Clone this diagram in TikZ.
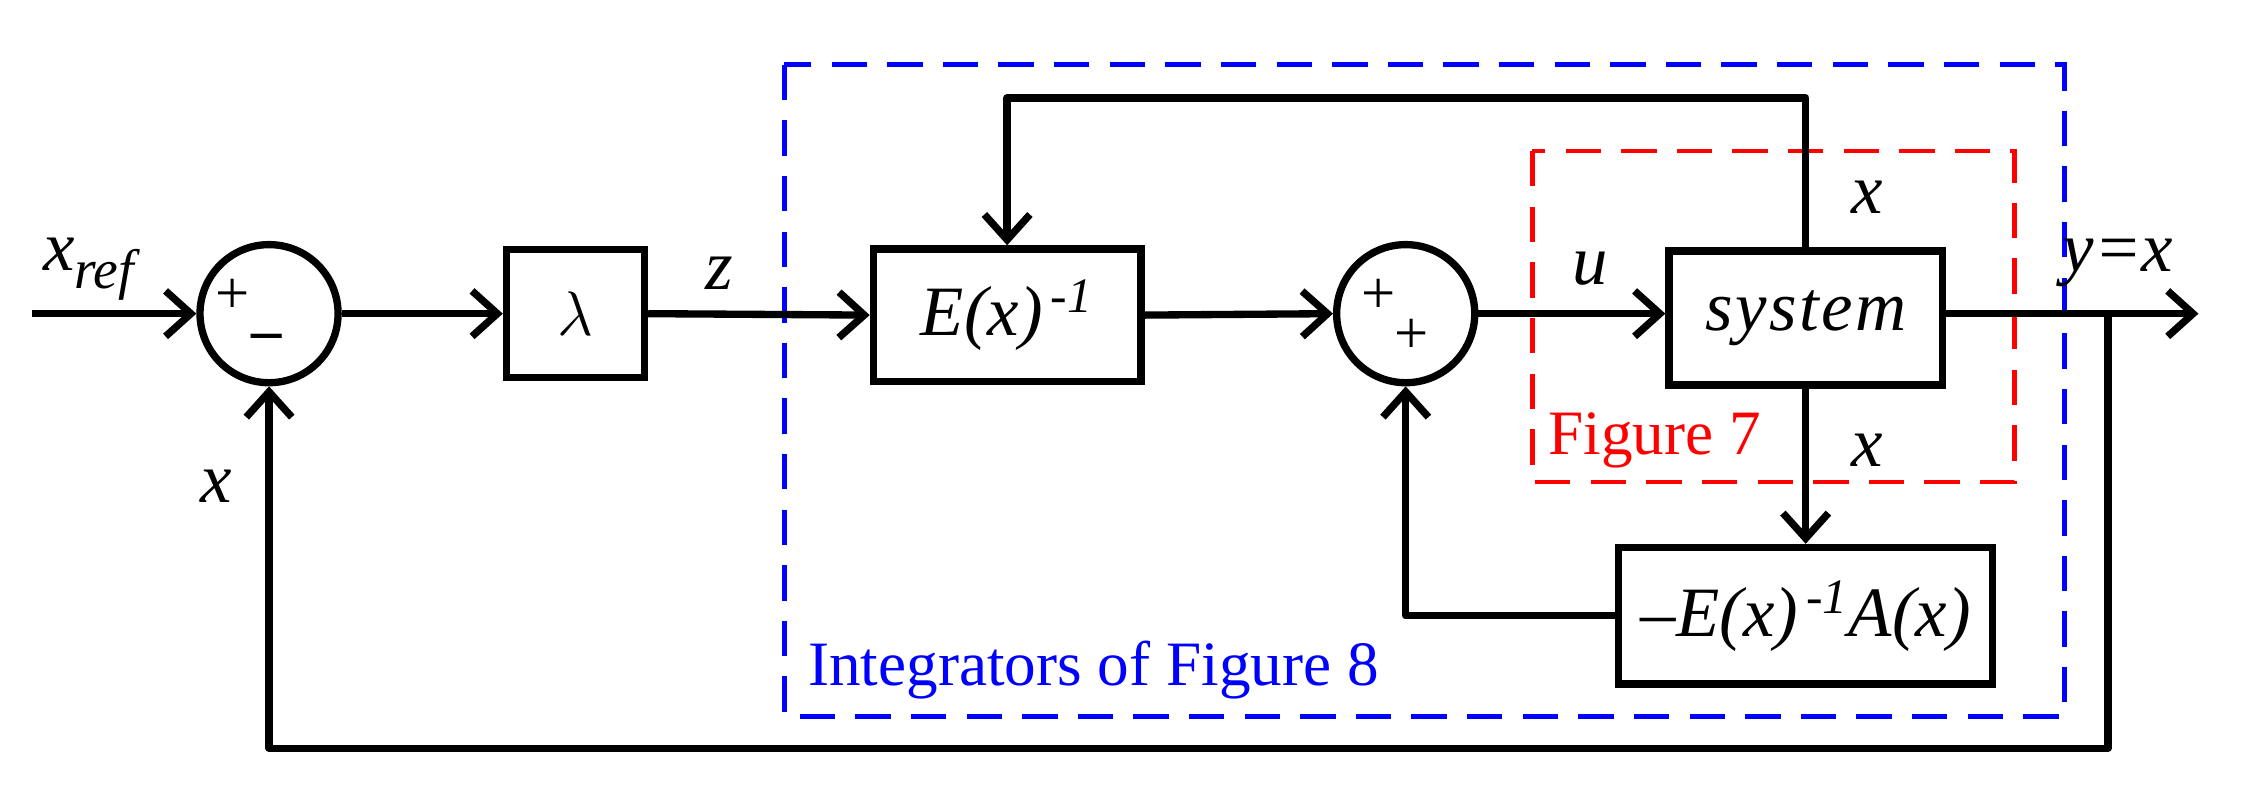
\documentclass[tikz,border=0pt]{standalone}
\usepackage{fontspec}
\setmainfont{Liberation Serif}
\usetikzlibrary{arrows.meta}
\begin{document}
\begin{tikzpicture}[x=0.02cm,y=-0.02cm,
  ln/.style={line width=2.9pt,line join=round},
  ar/.style={ln,-{Straight Barb[length=10pt,width=18pt,line width=2.9pt]}},
  box/.style={draw,line width=2.9pt,minimum width=0pt,inner sep=0pt},
  sum/.style={draw,circle,line width=2.9pt,minimum size=1.92cm,inner sep=0pt},
  lab/.style={font=\fontsize{28}{33}\selectfont\itshape,inner sep=0pt},
  sg/.style={font=\fontsize{24}{28}\selectfont,inner sep=0pt}]
\useasboundingbox (0,0) rectangle (1568,551);
% dashed frames
\draw[blue,line width=1.9pt,dash pattern=on 14pt off 8pt] (545,45) rectangle (1435,498);
\draw[red,line width=1.9pt,dash pattern=on 14pt off 8pt] (1065,105) rectangle (1400,335);
\node[blue,font=\fontsize{25}{30}\selectfont,inner sep=0pt] (lb) at (760,466) {Integrators of Figure 8};
\node[red,font=\fontsize{25}{30}\selectfont,inner sep=0pt] (lr) at (1150,306) {Figure 7};
% nodes
\coordinate (in) at (22,218);
\node[sum] (s1) at (187,218) {};
\node[sg] (p1) at (162,206) {+};
\node[sg] (m1) at (185,238) {\bfseries --};
\node[box,minimum width=1.92cm,minimum height=1.78cm] (lam) at (400,218) {};
\node[lab] (laml) at (400,218) {$\lambda$};
\node[box,minimum width=3.72cm,minimum height=1.84cm] (E) at (700,219) {};
\node[lab] (El) at (700,219) {E(x)\textsuperscript{\,-1}};
\node[sum] (s2) at (977,218) {};
\node[sg] (p2) at (958,206) {+};
\node[sg] (p3) at (981,234) {+};
\node[box,minimum width=3.8cm,minimum height=1.86cm] (sys) at (1255,221) {};
\node[lab] (sysl) at (1255,221) {s\kern1pt y\kern1pt s\kern1pt t\kern1pt e\kern1pt m};
\node[box,minimum width=5.2cm,minimum height=1.9cm] (B) at (1255,428) {};
\node[lab] (Bl) at (1255,428) {\upshape\textendash\itshape E(x)\textsuperscript{\,-1}A(x)};
\coordinate (out) at (1528,218);
\coordinate (br) at (1465,218);
% labels
\node[lab] (xr) at (62,187) {x\textsubscript{\fontsize{22}{26}\selectfont ref}};
\node[lab] (zl) at (500,190) {z};
\node[lab] (ul) at (1105,187) {u};
\node[lab] (yl) at (1472,183) {y=x};
\node[lab] (x1) at (1298,137) {x};
\node[lab] (x2) at (1298,313) {x};
\node[lab] (x3) at (150,338) {x};
% connectors
\draw[ar] (in) -- (s1.west);
\draw[ar] (s1.east) -- (lam.west);
\draw[ar] (lam.east) -- (E.west);
\draw[ar] (E.east) -- (s2.west);
\draw[ar] (s2.east) -- (sys.west|-s2.east);
\draw[ar] (sys.east|-out) -- (out);
\draw[ar] (sys.north) -- (1255,68) -- (700,68) -- (E.north);
\draw[ar] (sys.south) -- (B.north);
\draw[ar] (B.west) -- (977,428) -- (s2.south);
\draw[ar] (br) -- (1465,520) -- (187,520) -- (s1.south);
\end{tikzpicture}
\end{document}
